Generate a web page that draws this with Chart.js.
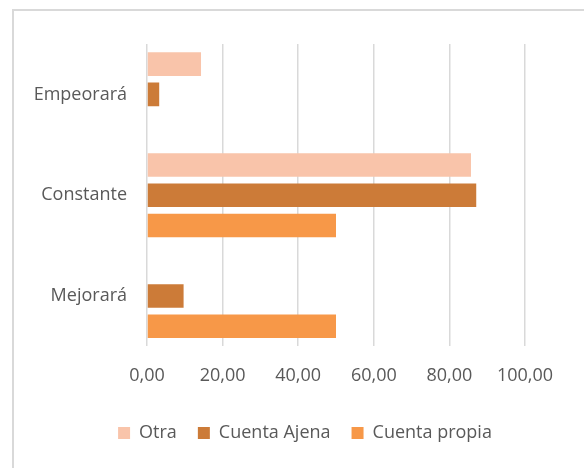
<!DOCTYPE html>
<html>
<head>
<meta charset="utf-8">
<script src="https://cdn.jsdelivr.net/npm/chart.js@4/dist/chart.umd.min.js"></script>
<style>
    html, body { margin: 0; padding: 0; background: #fff; overflow: hidden; }
    #frame {
        position: absolute; left: 12px; top: 9px;
        width: 620px; height: 520px;
        border: 2px solid #d9d9d9; box-sizing: border-box;
    }
    #wrap { position: absolute; left: 0; top: 0; width: 584px; height: 468px; }
</style>
</head>
<body>
<div id="frame"></div>
<div id="wrap"><canvas id="barChart" width="584" height="468"></canvas></div>
<script>
const categories = ['Empeorará', 'Constante', 'Mejorará'];
const otra = [14.29, 85.71, 0];
const cuentaAjena = [3.23, 87.10, 9.68];
const cuentaPropia = [0, 50.00, 50.00];
const xTicks = [0, 20, 40, 60, 80, 100];

// the legend sits centred under the whole frame, not under the plot;
// the value labels sit a little lower than the layout puts them
const nudge = {
    id: 'nudge',
    afterLayout(chart) {
        chart.legend.left += 26;
        chart.legend.right += 26;
        chart.legend.top += 5;
        chart.legend.bottom += 5;
        chart.scales.x.top += 4;
        chart.scales.x.bottom += 4;
    }
};

document.addEventListener('DOMContentLoaded', () => {
    const textColor = '#595959';
    const font = { family: '"Open Sans", sans-serif', size: 18 };

    const ctx = document.getElementById('barChart').getContext('2d');
    new Chart(ctx, {
        type: 'bar',
        data: {
            labels: categories,
            datasets: [
                { label: 'Otra', data: otra, backgroundColor: '#f9c4aa' },
                { label: 'Cuenta Ajena', data: cuentaAjena, backgroundColor: '#cc7b38' },
                { label: 'Cuenta propia', data: cuentaPropia, backgroundColor: '#f79848' }
            ]
        },
        options: {
            indexAxis: 'y',
            responsive: false,
            animation: false,
            categoryPercentage: 0.9,
            barPercentage: 0.78,
            layout: { padding: { left: 33, right: 59, top: 44, bottom: 21 } },
            plugins: {
                tooltip: { enabled: false },
                legend: {
                    position: 'bottom',
                    labels: {
                        color: textColor,
                        font: font,
                        boxWidth: 12,
                        boxHeight: 12,
                        padding: 21
                    }
                }
            },
            scales: {
                x: {
                    min: 0,
                    max: 100,
                    afterBuildTicks: axis => { axis.ticks = xTicks.map(v => ({ value: v })); },
                    grid: { color: '#d9d9d9', lineWidth: 1.5, drawTicks: false },
                    border: { display: false },
                    ticks: {
                        color: textColor,
                        font: font,
                        padding: 15,
                        callback: v => v.toFixed(2).replace('.', ',')
                    }
                },
                y: {
                    afterFit: axis => { axis.width = 114; },
                    grid: { display: false },
                    border: { display: false },
                    ticks: { color: textColor, font: font, padding: 12 }
                }
            }
        },
        plugins: [nudge]
    });
});
</script>
</body>
</html>
